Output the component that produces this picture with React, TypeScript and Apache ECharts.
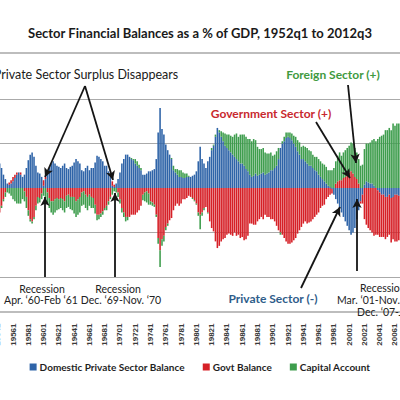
import React, { useEffect, useRef } from 'react';
import * as echarts from 'echarts';

const TITLE = 'Sector Financial Balances as a % of GDP, 1952q1 to 2012q3';
const SERIES_NAMES = ['Domestic Private Sector Balance', 'Govt Balance', 'Capital Account'];
const COLORS = ['#2f64a8', '#d62027', '#3e9d4d'];

// Quarterly categories 1952q1 .. 2012q3, labelled "YYYYQ"
const FIRST_YEAR = 1952;
const LAST_YEAR = 2012;
const LAST_QUARTER = 3;

// Domestic private sector balance, % of GDP (one row per year, q1..q4)
const privateBalance = [
  1.2, 1.6, 2.0, 1.8, // 1952
  2.0, 2.4, 2.6, 3.0, // 1953
  2.6, 2.2, 1.8, 1.2, // 1954
  0.8, 0.4, 0.3, 0.4, // 1955
  0.6, 0.9, 1.2, 1.4, // 1956
  1.2, 1.0, 1.2, 1.8, // 1957
  2.5, 3.0, 3.2, 2.8, // 1958
  2.0, 1.4, 1.3, 1.0, // 1959
  0.2, 0.8, 1.4, 1.8, // 1960
  2.2, 2.4, 2.2, 2.0, // 1961
  1.9, 1.8, 2.0, 2.2, // 1962
  1.8, 1.7, 1.9, 2.0, // 1963
  2.3, 2.6, 2.4, 2.2, // 1964
  1.6, 1.5, 1.8, 2.0, // 1965
  1.6, 1.8, 1.8, 2.3, // 1966
  2.9, 2.8, 2.6, 2.4, // 1967
  2.0, 2.0, 1.5, 1.0, // 1968
  0.2, 0.1, 0.4, 0.8, // 1969
  1.4, 2.2, 2.6, 3.0, // 1970
  3.0, 2.8, 2.6, 2.5, // 1971
  2.2, 2.0, 1.8, 1.6, // 1972
  1.2, 1.2, 1.3, 1.5, // 1973
  1.5, 1.6, 1.7, 2.6, // 1974
  5.0, 7.2, 5.3, 4.8, // 1975
  3.9, 3.4, 3.0, 2.6, // 1976
  1.6, 1.4, 1.2, 1.0, // 1977
  1.0, 0.9, 0.9, 1.0, // 1978
  1.0, 1.0, 1.1, 1.2, // 1979
  1.5, 2.4, 3.7, 2.6, // 1980
  2.2, 1.8, 2.4, 2.8, // 1981
  3.4, 3.8, 4.6, 5.4, // 1982
  5.0, 4.6, 4.2, 3.8, // 1983
  3.6, 3.4, 3.2, 3.0, // 1984
  2.8, 2.6, 2.4, 2.2, // 1985
  2.2, 2.0, 1.7, 1.5, // 1986
  1.2, 1.0, 1.1, 1.3, // 1987
  1.1, 1.2, 1.3, 1.4, // 1988
  1.2, 1.3, 1.4, 1.6, // 1989
  1.6, 1.8, 2.0, 2.6, // 1990
  3.6, 4.0, 4.2, 4.5, // 1991
  4.6, 4.5, 4.3, 4.0, // 1992
  3.7, 3.3, 3.0, 2.6, // 1993
  2.6, 2.4, 2.2, 2.0, // 1994
  2.0, 1.8, 1.6, 1.5, // 1995
  1.2, 1.0, 0.8, 0.6, // 1996
  0.4, 0.2, 0.1, -0.1, // 1997
  -0.6, -1.0, -1.4, -1.8, // 1998
  -2.2, -2.6, -3.0, -3.4, // 1999
  -3.8, -4.2, -4.0, -3.6, // 2000
  -2.8, -2.0, -1.2, -0.6, // 2001
  0.3, 0.6, 0.5, 0.4, // 2002
  0.4, 0.2, 0.0, -0.2, // 2003
  -0.4, -0.6, -0.6, -0.8, // 2004
  -0.8, -0.6, -0.9, -0.8, // 2005
  -0.6, -0.6, -0.7, -0.4, // 2006
  -0.4, 0.0, 0.4, 0.6, // 2007
  1.4, 2.2, 3.2, 5.0, // 2008
  7.0, 8.4, 8.8, 8.2, // 2009
  7.8, 7.6, 7.2, 7.0, // 2010
  6.8, 6.4, 6.2, 6.0, // 2011
  5.8, 5.6, 5.4, // 2012
];

// Government balance, % of GDP
const govtBalance = [
  -0.6, -1.0, -1.4, -1.3, // 1952
  -1.6, -2.0, -2.3, -2.8, // 1953
  -2.6, -2.2, -1.6, -1.0, // 1954
  -0.4, 0.0, 0.2, 0.3, // 1955
  0.4, 0.3, 0.2, 0.0, // 1956
  0.2, 0.0, -0.3, -0.8, // 1957
  -2.0, -2.8, -3.0, -2.6, // 1958
  -1.6, -0.8, -0.9, -0.5, // 1959
  0.5, 0.2, -0.4, -0.9, // 1960
  -1.2, -1.2, -1.0, -0.9, // 1961
  -1.0, -0.9, -1.0, -1.2, // 1962
  -0.7, -0.6, -0.8, -0.8, // 1963
  -0.8, -1.2, -1.0, -0.8, // 1964
  -0.4, -0.3, -0.6, -0.8, // 1965
  -0.6, -0.8, -0.9, -1.5, // 1966
  -2.4, -2.4, -2.3, -2.1, // 1967
  -1.8, -1.6, -1.2, -0.8, // 1968
  0.4, 0.2, 0.0, -0.4, // 1969
  -1.0, -1.8, -2.2, -2.6, // 1970
  -2.6, -2.6, -2.4, -2.4, // 1971
  -2.4, -2.2, -2.0, -1.6, // 1972
  -0.6, -0.4, -0.3, -0.5, // 1973
  -1.2, -1.3, -1.5, -2.4, // 1974
  -4.5, -5.6, -4.6, -4.3, // 1975
  -3.5, -3.2, -2.9, -2.7, // 1976
  -2.0, -1.6, -1.4, -1.6, // 1977
  -1.4, -1.0, -1.0, -0.9, // 1978
  -0.7, -0.8, -0.9, -1.1, // 1979
  -1.4, -2.2, -2.4, -2.2, // 1980
  -1.8, -1.7, -2.2, -3.0, // 1981
  -3.6, -3.9, -4.8, -5.4, // 1982
  -5.2, -4.8, -4.6, -4.5, // 1983
  -4.2, -4.1, -4.2, -4.3, // 1984
  -4.0, -4.3, -4.2, -4.5, // 1985
  -4.4, -4.7, -4.6, -4.3, // 1986
  -3.2, -3.2, -3.3, -3.3, // 1987
  -3.0, -2.8, -2.6, -2.8, // 1988
  -2.4, -2.6, -2.6, -2.8, // 1989
  -2.8, -3.0, -3.4, -3.8, // 1990
  -4.0, -4.2, -4.5, -4.8, // 1991
  -5.0, -5.0, -4.9, -4.7, // 1992
  -4.5, -4.1, -3.8, -3.5, // 1993
  -3.2, -3.0, -3.2, -3.1, // 1994
  -3.0, -2.8, -2.6, -2.4, // 1995
  -2.2, -1.8, -1.6, -1.5, // 1996
  -1.0, -0.8, -0.6, -0.4, // 1997
  0.0, 0.4, 0.6, 0.7, // 1998
  0.7, 0.9, 1.0, 1.2, // 1999
  1.4, 1.5, 1.3, 1.0, // 2000
  0.8, 0.4, -0.2, -0.8, // 2001
  -2.8, -3.3, -3.6, -3.8, // 2002
  -4.0, -4.3, -4.2, -4.0, // 2003
  -4.0, -3.8, -3.8, -3.8, // 2004
  -3.6, -3.6, -4.0, -3.8, // 2005
  -4.2, -4.2, -4.0, -3.8, // 2006
  -3.8, -4.0, -4.4, -4.6, // 2007
  -5.4, -6.8, -7.4, -8.8, // 2008
  -10.2, -10.8, -11.0, -10.8, // 2009
  -10.6, -10.6, -10.4, -10.2, // 2010
  -10.0, -9.8, -9.6, -9.4, // 2011
  -9.0, -8.8, -8.6, // 2012
];

// Capital account (foreign sector balance), % of GDP
const capitalAccount = [
  -0.6, -0.6, -0.6, -0.5, // 1952
  -0.4, -0.4, -0.3, -0.2, // 1953
  0.0, 0.0, -0.2, -0.2, // 1954
  -0.4, -0.4, -0.5, -0.7, // 1955
  -1.0, -1.2, -1.4, -1.4, // 1956
  -1.4, -1.0, -0.9, -1.0, // 1957
  -0.5, -0.2, -0.2, -0.2, // 1958
  -0.4, -0.6, -0.4, -0.5, // 1959
  -0.7, -1.0, -1.0, -0.9, // 1960
  -1.0, -1.2, -1.2, -1.1, // 1961
  -0.9, -0.9, -1.0, -1.0, // 1962
  -1.1, -1.1, -1.1, -1.2, // 1963
  -1.5, -1.4, -1.4, -1.4, // 1964
  -1.2, -1.2, -1.2, -1.2, // 1965
  -1.0, -1.0, -0.9, -0.8, // 1966
  -0.5, -0.4, -0.3, -0.3, // 1967
  -0.2, -0.4, -0.3, -0.2, // 1968
  -0.6, -0.3, -0.4, -0.4, // 1969
  -0.4, -0.4, -0.4, -0.4, // 1970
  -0.3, 0.0, 0.1, 0.1, // 1971
  0.4, 0.4, 0.3, 0.2, // 1972
  -0.5, -0.8, -1.0, -1.0, // 1973
  -0.3, -0.3, -0.2, -0.2, // 1974
  -0.5, -1.5, -0.6, -0.5, // 1975
  -0.3, -0.2, 0.0, 0.1, // 1976
  0.4, 0.3, 0.5, 0.6, // 1977
  0.6, 0.5, 0.4, 0.3, // 1978
  0.1, 0.0, -0.1, -0.1, // 1979
  -0.1, -0.3, -1.3, -0.3, // 1980
  -0.2, 0.0, -0.1, 0.0, // 1981
  0.2, 0.1, 0.2, 0.0, // 1982
  0.2, 0.5, 0.8, 1.1, // 1983
  1.2, 1.4, 1.5, 1.6, // 1984
  2.0, 2.3, 2.2, 2.6, // 1985
  2.6, 2.8, 2.9, 2.9, // 1986
  3.2, 3.2, 3.3, 3.0, // 1987
  2.6, 2.3, 2.2, 2.2, // 1988
  2.0, 1.8, 1.7, 1.6, // 1989
  1.3, 1.2, 1.3, 1.0, // 1990
  -0.2, 0.2, 0.4, 0.5, // 1991
  0.4, 0.5, 0.6, 0.7, // 1992
  0.9, 1.0, 1.1, 1.1, // 1993
  1.2, 1.3, 1.4, 1.4, // 1994
  1.3, 1.2, 1.2, 1.3, // 1995
  1.4, 1.4, 1.4, 1.5, // 1996
  1.5, 1.4, 1.5, 1.6, // 1997
  1.8, 2.0, 2.3, 2.5, // 1998
  2.2, 2.3, 2.4, 2.4, // 1999
  2.4, 2.6, 2.7, 2.6, // 2000
  2.4, 2.2, 2.0, 2.1, // 2001
  3.2, 3.4, 3.5, 3.7, // 2002
  3.9, 4.2, 4.2, 4.4, // 2003
  4.6, 4.7, 4.8, 5.2, // 2004
  5.2, 5.4, 5.2, 5.8, // 2005
  5.6, 5.8, 5.8, 5.4, // 2006
  5.2, 5.0, 4.6, 4.4, // 2007
  4.6, 4.8, 4.6, 4.2, // 2008
  3.0, 2.8, 2.8, 3.0, // 2009
  3.2, 3.4, 3.6, 3.6, // 2010
  3.6, 3.6, 3.4, 3.4, // 2011
  3.2, 3.2, 3.2, // 2012
];

const quarterLabels: string[] = [];
for (let y = FIRST_YEAR; y <= LAST_YEAR; y++) {
  for (let q = 1; q <= 4; q++) {
    if (y === LAST_YEAR && q > LAST_QUARTER) break;
    quarterLabels.push(`${y}${q}`);
  }
}

// The chart canvas is wider than the 400px view and shifted left by OFF px,
// so the plot runs past both edges as in the cropped reference.
const OFF = 50;
const CHART_W = 500;
const ARROW_COLOR = '#151515';

function txt(text: string, x: number, y: number, font: string, fill: string, align = 'center') {
  return {
    type: 'text',
    x: x + OFF,
    y,
    silent: true,
    z: 100,
    style: {
      text,
      font,
      fill,
      align,
      verticalAlign: 'middle',
      textAlign: align,
      textVerticalAlign: 'middle',
    },
  };
}

function arrow(x1: number, y1: number, x2: number, y2: number) {
  return [{ x: x1 + OFF, y: y1 }, { x: x2 + OFF, y: y2 }];
}

export default function App() {
  const ref = useRef<HTMLDivElement>(null);
  useEffect(() => {
    if (!ref.current) return;
    const chart = echarts.init(ref.current, undefined, { renderer: 'svg' });
    const seriesData = [privateBalance, govtBalance, capitalAccount];
    const option: any = {
      animation: false,
      backgroundColor: '#ffffff',
      title: {
        text: TITLE,
        left: 'center',
        top: 26,
        padding: 0,
        textStyle: { fontFamily: 'Lato', fontWeight: 'bold', fontSize: 13, color: '#1a1a1a' },
      },
      legend: {
        data: SERIES_NAMES,
        left: 'center',
        top: 357,
        icon: 'rect',
        itemWidth: 7,
        itemHeight: 7,
        itemGap: 18,
        textStyle: { fontFamily: 'Lato', fontWeight: 'bold', fontSize: 10, color: '#1f1f1f', padding: [0, 0, 0, -2] },
      },
      grid: { left: -18.5 + OFF, right: CHART_W - (445.6 + OFF), top: 54.5, bottom: 78.5, containLabel: false },
      xAxis: {
        type: 'category',
        data: quarterLabels,
        position: 'bottom',
        axisLine: { show: false },
        axisTick: { show: false },
        splitLine: { show: false },
        axisLabel: {
          interval: 7,
          rotate: 90,
          margin: 2,
          fontSize: 8,
          fontFamily: 'Liberation Sans',
          fontWeight: 'bold',
          color: '#3a3a3a',
        },
      },
      yAxis: {
        type: 'value',
        min: -12,
        max: 12,
        interval: 4,
        axisLabel: { show: false },
        axisLine: { show: false },
        axisTick: { show: false },
        splitLine: {
          show: true,
          showMinLine: false,
          showMaxLine: false,
          lineStyle: { color: ['#aaaaaa', '#aaaaaa', 'rgba(0,0,0,0)', '#aaaaaa', '#aaaaaa'], width: 1 },
        },
      },
      series: SERIES_NAMES.map((name, i) => ({
        name,
        type: 'bar',
        stack: 'total',
        data: seriesData[i],
        barCategoryGap: '18%',
        itemStyle: { color: COLORS[i] },
        ...(i === 2
          ? {
              markLine: {
                silent: true,
                symbol: ['none', 'arrow'],
                symbolSize: [7, 9],
                label: { show: false },
                lineStyle: { color: ARROW_COLOR, width: 1.8, type: 'solid' },
                data: [
                  arrow(85, 86, 45, 177),
                  arrow(85, 86, 113, 180),
                  arrow(45, 277, 45, 197),
                  arrow(115, 277, 115, 193),
                  arrow(316, 122, 350, 178),
                  arrow(348, 85, 356, 163),
                  arrow(301, 288, 340, 207),
                  arrow(357, 271, 357, 199),
                ],
              },
            }
          : {}),
      })),
      graphic: [
        { type: 'line', silent: true, shape: { x1: 0, y1: 53, x2: CHART_W, y2: 53 }, style: { stroke: '#bdbdbd', lineWidth: 2 } },
        { type: 'line', silent: true, shape: { x1: 0, y1: 312, x2: CHART_W, y2: 312 }, style: { stroke: '#bdbdbd', lineWidth: 2 } },
        txt('Private Sector Surplus Disappears', 86, 74, '12.5px Lato', '#1a1a1a'),
        txt('Foreign Sector (+)', 333, 74, 'bold 12px Lato', '#3f9a3f'),
        txt('Government Sector (+)', 271, 113, 'bold 12px Lato', '#c8282e'),
        txt('Private Sector (-)', 273, 298, 'bold 12px Lato', '#2f5d8a'),
        txt('Recession', 42, 289, '10.5px Lato', '#222222'),
        txt('Apr. \u201860-Feb \u201861', 41, 300, '10.5px Lato', '#222222'),
        txt('Recession', 118, 289, '10.5px Lato', '#222222'),
        txt('Dec. \u201869-Nov. \u201870', 121, 300, '10.5px Lato', '#222222'),
        txt('Recession', 360, 288, '10.5px Lato', '#222222', 'left'),
        txt('Mar. \u201801-Nov. \u201801', 337, 300, '10.5px Lato', '#222222', 'left'),
        txt('Dec. \u201807-June \u201809', 357, 312, '10.5px Lato', '#222222', 'left'),
      ],
    };
    chart.setOption(option);
    return () => chart.dispose();
  }, []);
  return (
    <div
      style={{ position: 'fixed', left: 0, top: 0, width: 400, height: 400, overflow: 'hidden', background: '#fff' }}
    >
      <div ref={ref} style={{ position: 'absolute', left: -OFF, top: 0, width: CHART_W, height: 400 }} />
    </div>
  );
}
